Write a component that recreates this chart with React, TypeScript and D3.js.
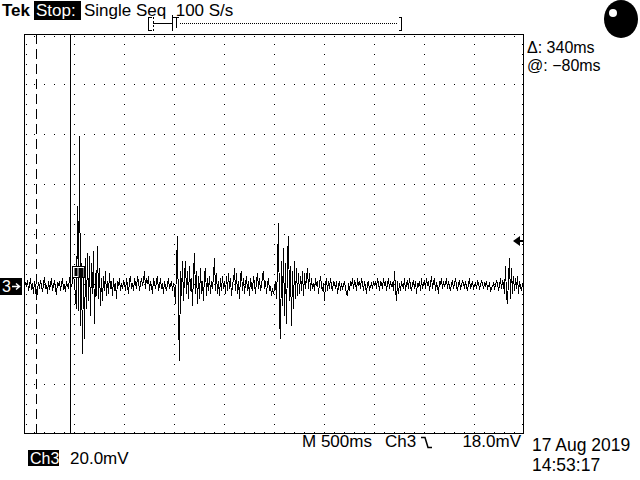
import * as d3 from "d3";

// Ch3 samples in mV, one every 10 ms (100 S/s), one division (50 samples) per line
const ch3Div0 = [-1, 1.5, -0.5, 2.5, -2, 0.5, 3, -1.5, 1, -3, 2, -0.5, -5.5, -2, 1.5, -1, 2.5, 0, -2.5, 1, 3.5, -1, 0.5, -3, 2, -1.5, 1, 3, -2, 0, 2.5, -1, -3.5, 1.5, 0, 2, -2, 1, 3, -1.5, 0.5, -2.5, 2, 0, -1, 3.5, 1, -0.5, 2, 4];
const ch3Div1 = [2, -5, -9, 32, -10, 60, -16, 9, -27, 7, -21, 11, -9, 13, -6, 12, -12, 9, -3, 14, -15, 5, -4, 16, -5, 7, -8, 3, -6, 4, -2, 6, -4, 2, -3, 5, -1, 2, -4, 3, -2, 1, -5, 2, 0, 3, -2, 1, -1, 2];
const ch3Div2 = [1, -2, 3, 0, -3, 2, 4, -1, 1, -2, 3, 1, -1, 4, 2, -2, 1, 3, 0, 2, 6, -1, 3, 1, 4, -2, 2, 0, -3, 3, 1, -1, 2, 4, -2, 0, 3, -1, 1, -3, 2, 0, -2, 1, 3, -1, 0, 2, -2, 1];
const ch3Div3 = [-2, -7, 8, 20, -13, -30, 6, -4, 10, -6, 4, 10, -3, 6, -5, 8, -2, 3, -8, 5, 13, -3, 6, -7, 4, -5, 7, -3, 2, -6, 5, 7, -4, 3, -2, 4, -3, 2, -1, 4, 11, -2, 5, -3, 2, -4, 3, -2, 4, -1];
const ch3Div4 = [2, -3, 4, -2, 5, -1, 3, -4, 1, 2, 7, -2, 5, -3, 2, -5, 4, 6, -2, 3, -3, 1, 4, -2, 2, -4, 3, 0, -2, 4, 1, -3, 2, 5, -1, 3, -2, 0, 4, 6, -1, 2, -3, 1, 3, -2, 0, -4, -1, -3];
const ch3Div5 = [-1, 2, -5, 8, 25, -13, -21, 10, -8, 15, -12, 9, -15, 12, 20, -6, 8, -16, 6, -9, 10, -5, 7, -4, 5, -3, 4, -2, 6, -4, 5, -1, 3, 7, -1, 5, -2, 3, -1, 1, -2, 3, 0, 2, -3, 1, 4, 0, -2, 1];
const ch3Div6 = [-6, 1, 3, -2, 2, -1, 3, 0, -2, 2, 1, -1, 2, -3, 0, 2, -2, 1, -1, 0, 2, -1, -3, -4, 1, -2, 2, 0, 3, -1, 2, 1, -2, 3, 0, 2, -1, 3, 1, -2, 2, 0, -3, 1, 2, -2, 0, 1, -1, 2];
const ch3Div7 = [0, 2, -1, 3, 1, -2, 2, 1, -1, 3, 0, 2, -2, 1, 3, -1, 2, 0, 1, -2, 6, -1, -6, 2, -3, 1, -2, 2, 0, -1, 3, -2, 1, 2, -1, 3, 0, -2, 1, 2, -1, 2, -3, 1, 0, 2, -2, 3, -1, 1];
const ch3Div8 = [2, -1, 3, 0, 2, -2, 1, 4, -1, 2, 3, -2, 1, 0, -3, 2, 1, 3, -1, 2, 0, 1, 3, -1, 2, 0, -2, 1, 2, -1, 1, 3, 0, -2, 1, 2, -1, 0, 2, 1, -1, 2, 0, -2, 1, 3, -1, 0, 2, -1];
const ch3Div9 = [0, 1, -1, 2, 1, -1, 0, 2, 1, -1, 1, 0, 2, -1, 0, 1, -2, -1, 0, 1, -1, 0, 2, 1, -2, 0, 3, -1, 2, 1, -3, 8, -4, -7, 3, 11, -5, 7, -3, 4, -2, 3, -1, 4, -3, 2, 0, -2, 1, -1];

const ch3Samples = [
  ...ch3Div0, ...ch3Div1, ...ch3Div2, ...ch3Div3, ...ch3Div4,
  ...ch3Div5, ...ch3Div6, ...ch3Div7, ...ch3Div8, ...ch3Div9,
];

const FIRST_SAMPLE_MS = -540;
const SAMPLE_MS = 10;
const TIME_PER_DIV_MS = 500;
const MV_PER_DIV = 20;
const CH3_POSITION_DIV = -1.04;
const TRIGGER_LEVEL_MV = 18;
const cursorTimesMs = [-420, -80];

const headerLabels = ["Tek", "Stop:", "Single Seq  100 S/s"];
const cursorReadouts = ["\u0394: 340ms", "@: \u221280ms"];
const footerLabels = ["M 500ms", "Ch3", "18.0mV"];
const channelLabels = ["Ch3", "20.0mV"];
const dateLabels = ["17 Aug 2019", "14:53:17"];

const FONT = "'Liberation Sans', Arial, sans-serif";

export default function App() {
  const left = 24;
  const top = 34;
  const width = 500;
  const height = 400;

  const x = d3
    .scaleLinear()
    .domain([FIRST_SAMPLE_MS, FIRST_SAMPLE_MS + TIME_PER_DIV_MS * 10])
    .range([left + 0.5, left + width + 0.5]);
  const yDiv = d3.scaleLinear().domain([-4, 4]).range([top + height, top]);
  const y = (mv: number) => yDiv(mv / MV_PER_DIV + CH3_POSITION_DIV);

  const line = d3
    .line<number>()
    .x((_, i) => x(FIRST_SAMPLE_MS + i * SAMPLE_MS))
    .y((d) => y(d));

  // graticule dots every 1/5 division
  const dots: [number, number][] = [];
  const minor = d3.range(left + 10, left + width, 10);
  const minorY = d3.range(top + 10, top + height, 10);
  d3.range(1, 10).forEach((k) => {
    const gx = left + k * 50;
    minorY.forEach((yy) => dots.push([gx, yy]));
  });
  d3.range(1, 8).forEach((k) => {
    const gy = top + k * 50;
    minor.forEach((xx) => dots.push([xx, gy]));
  });
  minor.forEach((xx) => {
    dots.push([xx, top + 2]);
    dots.push([xx, top + height - 2]);
  });
  minorY.forEach((yy) => {
    dots.push([left + 2, yy]);
    dots.push([left + width - 2, yy]);
  });

  const groundY = y(0);
  const trigY = y(TRIGGER_LEVEL_MV);
  const trigX = x(0);

  return (
    <svg
      width={640}
      height={480}
      style={{ position: "fixed", left: 0, top: 0, background: "#fff" }}
      fontFamily={FONT}
    >
      <rect width={640} height={480} fill="#fff" />

      {/* header */}
      <text x={2} y={16} fontSize={17} fontWeight="bold">{headerLabels[0]}</text>
      <rect x={34} y={1} width={47} height={19} fill="#000" />
      <text x={36} y={16} fontSize={17} fill="#fff">{headerLabels[1]}</text>
      <text x={84} y={16} fontSize={17} style={{ whiteSpace: "pre" }}>{headerLabels[2]}</text>

      {/* record view bar */}
      <g stroke="#000" fill="none" shapeRendering="crispEdges">
        <path d="M151.5,17.5 H148.5 V30.5 H151.5" />
        <path d="M153.5,17 V31" strokeDasharray="2 2" />
        <path d="M153,23.5 H172" />
        <path d="M172.5,15 V31" />
        <path d="M173,17.5 H179 M176.5,17 V28" />
        <path d="M180,23.5 H398" strokeDasharray="1 1" />
        <path d="M398.5,17.5 H401.5 V30.5 H398.5" />
      </g>

      {/* scope logo */}
      <ellipse cx={621} cy={19} rx={17} ry={19} fill="#000" />
      <circle cx={613} cy={13} r={4} fill="#fff" />

      {/* graticule */}
      <rect
        x={left + 0.5}
        y={top + 0.5}
        width={width - 1}
        height={height - 1}
        fill="none"
        stroke="#000"
        shapeRendering="crispEdges"
      />
      <g fill="#000" shapeRendering="crispEdges">
        {dots.map(([dx, dy], i) => (
          <rect key={i} x={dx} y={dy} width={1} height={1} />
        ))}
      </g>

      {/* cursors */}
      <line
        x1={x(cursorTimesMs[0])}
        x2={x(cursorTimesMs[0])}
        y1={top}
        y2={top + height}
        stroke="#000"
        strokeDasharray="10 5"
        shapeRendering="crispEdges"
      />
      <line
        x1={x(cursorTimesMs[1])}
        x2={x(cursorTimesMs[1])}
        y1={top}
        y2={top + height}
        stroke="#000"
        shapeRendering="crispEdges"
      />

      {/* waveform */}
      <path
        d={line(ch3Samples) ?? ""}
        fill="none"
        stroke="#000"
        strokeWidth={1}
        shapeRendering="crispEdges"
      />

      {/* trigger point marker */}
      <rect x={trigX - 6} y={266.5} width={12} height={11} fill="#fff" stroke="#000" shapeRendering="crispEdges" />
      <rect x={trigX - 4} y={268} width={3} height={8} fill="#000" />
      <rect x={trigX} y={268} width={5} height={9} fill="#000" />

      {/* channel ground marker */}
      <rect x={0} y={groundY - 8} width={22} height={17} fill="#000" />
      <text x={2} y={groundY + 6} fontSize={16} fill="#fff">3</text>
      <path
        d={`M12,${groundY + 0.5} H19 M16,${groundY - 2.5} L19.5,${groundY + 0.5} L16,${groundY + 3.5}`}
        stroke="#fff"
        strokeWidth={1.5}
        fill="none"
      />

      {/* trigger level marker */}
      <path d={`M513,${trigY} L520,${trigY - 5} V${trigY + 5} Z`} fill="#000" />
      <rect x={519} y={trigY - 1} width={4} height={2} fill="#000" />

      {/* cursor readouts */}
      <text x={527} y={53} fontSize={16}>{cursorReadouts[0]}</text>
      <text x={527} y={71} fontSize={16}>{cursorReadouts[1]}</text>

      {/* footer */}
      <text x={302} y={447} fontSize={17}>{footerLabels[0]}</text>
      <text x={385} y={447} fontSize={17}>{footerLabels[1]}</text>
      <path d="M421,437.5 H425 L428,447.5 H432" stroke="#000" strokeWidth={1.5} fill="none" />
      <text x={521} y={447} fontSize={17} textAnchor="end">{footerLabels[2]}</text>

      <rect x={28} y={450} width={31} height={16} fill="#000" />
      <text x={30} y={464} fontSize={16} fill="#fff">{channelLabels[0]}</text>
      <text x={70} y={464} fontSize={17}>{channelLabels[1]}</text>

      <text x={532} y={451} fontSize={17.5}>{dateLabels[0]}</text>
      <text x={532} y={471} fontSize={17.5}>{dateLabels[1]}</text>
    </svg>
  );
}
